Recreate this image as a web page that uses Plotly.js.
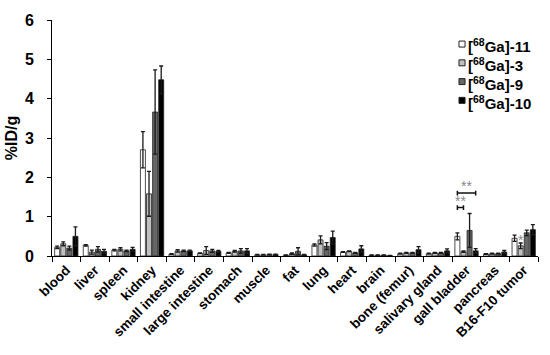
<!DOCTYPE html>
<html>
<head>
<meta charset="utf-8">
<script src="https://cdn.plot.ly/plotly-3.0.1.min.js"></script>
<style>html,body{margin:0;padding:0;background:#fff;}#chart{width:550px;height:355px;}</style>
</head>
<body>
<div id="chart"></div>
<script>
var categories = ["blood","liver","spleen","kidney","small intestine","large intestine","stomach","muscle","fat","lung","heart","brain","bone (femur)","salivary gland","gall bladder","pancreas","B16-F10 tumor"];
var seriesNames = ["[<sup>68</sup>Ga]-11","[<sup>68</sup>Ga]-3","[<sup>68</sup>Ga]-9","[<sup>68</sup>Ga]-10"];
var ga11 = [0.22,0.27,0.15,2.70,0.05,0.07,0.08,0.03,0.02,0.28,0.10,0.02,0.06,0.06,0.50,0.05,0.45];
var ga11Err = [0.03,0.02,0.02,0.46,0.01,0.01,0.01,0.01,0.01,0.03,0.01,0.005,0.01,0.01,0.09,0.01,0.08];
var ga3 = [0.31,0.10,0.17,1.58,0.13,0.14,0.12,0.03,0.06,0.41,0.12,0.02,0.08,0.08,0.11,0.06,0.26];
var ga3Err = [0.05,0.05,0.04,0.57,0.03,0.10,0.02,0.01,0.02,0.10,0.01,0.005,0.01,0.01,0.02,0.01,0.07];
var ga9 = [0.20,0.17,0.13,3.66,0.13,0.13,0.13,0.04,0.12,0.25,0.08,0.02,0.08,0.08,0.65,0.06,0.59];
var ga9Err = [0.05,0.07,0.02,1.07,0.02,0.04,0.06,0.01,0.09,0.09,0.01,0.005,0.01,0.01,0.43,0.01,0.07];
var ga10 = [0.50,0.12,0.17,4.48,0.13,0.12,0.13,0.04,0.03,0.47,0.18,0.01,0.16,0.13,0.13,0.10,0.67];
var ga10Err = [0.24,0.05,0.05,0.35,0.02,0.02,0.06,0.01,0.01,0.16,0.08,0.005,0.08,0.05,0.06,0.04,0.13];
var fills = ["#ffffff","#c0c0c0","#666666","#000000"];
var yTicks = [0,1,2,3,4,5,6];
// significance: [category, bar from, bar to, bracket level, label]
var sigCats = ["gall bladder","gall bladder"];
var sigFrom = [0,0];
var sigTo = [1,3];
var sigLevel = [1.23,1.60];
var sigText = ["**","**"];

var font = "Arial, 'Liberation Sans', sans-serif";
var vals = [ga11, ga3, ga9, ga10];
var errs = [ga11Err, ga3Err, ga9Err, ga10Err];
var traces = [];
for (var i = 0; i < 4; i++) {
  traces.push({
    type: "bar", x: categories, y: vals[i], name: seriesNames[i], showlegend: false,
    marker: {color: fills[i], line: {color: "#222", width: 0.8}},
    error_y: {type: "data", array: errs[i], visible: true, color: "#1a1a1a", thickness: 1.3, width: 2}
  });
}

var slot = 0.853 / 4;
function barPos(g, k) { return g + (k - 1.5) * slot; }
var shapes = [], annotations = [];
for (var s = 0; s < sigCats.length; s++) {
  var g = categories.indexOf(sigCats[s]);
  var x0 = barPos(g, sigFrom[s]), x1 = barPos(g, sigTo[s]), y = sigLevel[s], c = 0.06;
  shapes.push({type: "path", xref: "x", yref: "y",
    path: "M" + x0 + "," + (y - c) + "L" + x0 + "," + (y + c) + "M" + x0 + "," + y + "L" + x1 + "," + y +
          "M" + x1 + "," + (y - c) + "L" + x1 + "," + (y + c),
    line: {color: "#111", width: 1.5}});
  annotations.push({x: (x0 + x1) / 2, y: y + 0.17, xref: "x", yref: "y", text: sigText[s], showarrow: false,
    xanchor: "center", yanchor: "middle", borderpad: 0,
    font: {family: font, size: 14, color: "#8a8a8a"}});
}
var tum = categories.indexOf("B16-F10 tumor");
annotations.push({x: barPos(tum, 1), y: ga3[tum] + ga3Err[tum] + 0.08, xref: "x", yref: "y", text: "*", showarrow: false,
  xanchor: "center", yanchor: "middle", borderpad: 0, font: {family: font, size: 14, color: "#8a8a8a"}});

// legend drawn as paper-positioned swatches and labels
var legX = 0.8374, legW = 0.0125, legRowTop = 0.898, legRowStep = 0.0795, legH = 0.0254;
for (var k = 0; k < 4; k++) {
  var yc = legRowTop - k * legRowStep;
  shapes.push({type: "rect", xref: "paper", yref: "paper", x0: legX, x1: legX + legW,
    y0: yc - legH / 2, y1: yc + legH / 2, fillcolor: fills[k], line: {color: "#222", width: 1}});
  annotations.push({xref: "paper", yref: "paper", x: legX + legW + 0.004, y: yc - 0.008, text: seriesNames[k],
    showarrow: false, xanchor: "left", yanchor: "middle", borderpad: 0,
    font: {family: font, size: 15, weight: "bold", color: "#000"}});
}

var layout = {
  width: 550, height: 355,
  margin: {l: 52, r: 12, t: 20, b: 99},
  paper_bgcolor: "#fff", plot_bgcolor: "#fff",
  barmode: "group", bargap: 0.147, bargroupgap: 0.18,
  showlegend: false,
  font: {family: font, color: "#000"},
  xaxis: {
    type: "category", showline: true, linecolor: "#000", linewidth: 1,
    ticks: "outside", tickson: "boundaries", ticklen: 5, tickcolor: "#000",
    tickangle: -45, tickfont: {family: font, size: 13.5, weight: "bold", color: "#000"},
    showgrid: false, zeroline: false, automargin: false
  },
  yaxis: {
    range: [0, 6], tickvals: yTicks, showline: true, linecolor: "#000", linewidth: 1,
    ticks: "outside", ticklen: 4, tickcolor: "#000", showgrid: false, zeroline: false,
    ticklabelstandoff: 10, automargin: false,
    tickfont: {family: font, size: 16, weight: "bold", color: "#000"},
    title: {text: "%ID/g", font: {family: font, size: 16, weight: "bold", color: "#000"}, standoff: 3}
  },
  shapes: shapes, annotations: annotations
};
Plotly.newPlot("chart", traces, layout, {displayModeBar: false, staticPlot: true});
</script>
</body>
</html>
